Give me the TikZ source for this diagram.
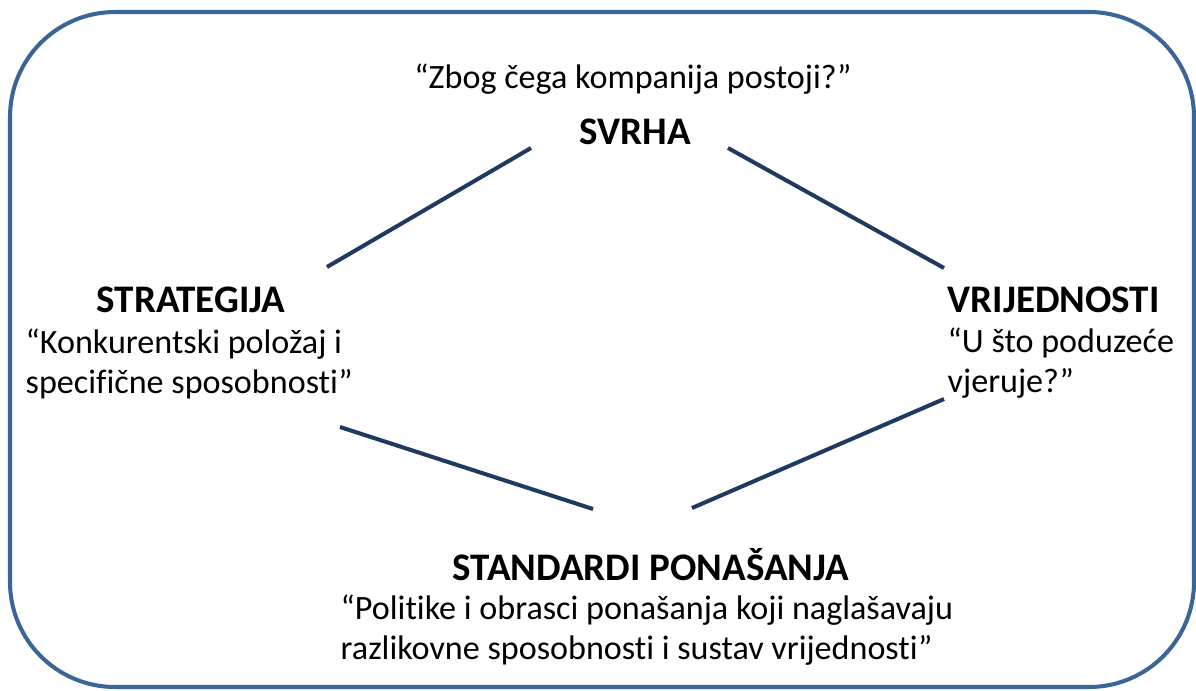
\documentclass[tikz,border=0pt]{standalone}
\usepackage{fontspec}
\setmainfont{Carlito}[Ligatures=NoCommon]
\usetikzlibrary{positioning}
\definecolor{frameblue}{HTML}{3A6596}
\definecolor{linknavy}{HTML}{1F3A60}
\tikzset{
  heading/.style={font=\fontsize{11.1}{12.5}\selectfont\bfseries, inner sep=0pt, anchor=base},
  quote/.style={font=\fontsize{9.7}{11.1}\selectfont, inner sep=0pt, align=left, anchor=base west},
  link/.style={draw=linknavy, line width=1.15pt},
}
\begin{document}
\begin{tikzpicture}[x=0.01cm,y=-0.01cm]
\useasboundingbox (0,0) rectangle (1196,690);
\draw[frameblue, line width=1.15pt, rounded corners=1.05cm] (10,12) rectangle (1194,687);

% purpose
\node[quote, anchor=base] (svrhaq) at (633,88) {“Zbog čega kompanija postoji?”};
\node[heading] (svrha) at (635,144) {SVRHA};

% strategy (quote placed by its last line)
\node[heading] (strategija) at (191,312) {STRATEGIJA};
\node[quote] (strategijaq) at (25,393) {“Konkurentski položaj i\\specifične sposobnosti”};

% values
\node[heading, anchor=base west] (vrijednosti) at (947,312) {VRIJEDNOSTI};
\node[quote] (vrijednostiq) at (947,392) {“U što poduzeće\\vjeruje?”};

% standards
\node[heading] (standardi) at (651,580) {STANDARDI PONAŠANJA};
\node[quote] (standardiq) at (340,659) {“Politike i obrasci ponašanja koji naglašavaju\\razlikovne sposobnosti i sustav vrijednosti”};

% line ends
\coordinate (svrhaL) at (531,148);
\coordinate (svrhaR) at (728,148);
\coordinate (strategijaT) at (327,267);
\coordinate (strategijaB) at (340,427);
\coordinate (vrijednostiT) at (944,268);
\coordinate (vrijednostiB) at (944,399);
\coordinate (standardiL) at (593,509);
\coordinate (standardiR) at (692,508);

\draw[link] (svrhaL) -- (strategijaT);
\draw[link] (svrhaR) -- (vrijednostiT);
\draw[link] (strategijaB) -- (standardiL);
\draw[link] (vrijednostiB) -- (standardiR);
\end{tikzpicture}
\end{document}
